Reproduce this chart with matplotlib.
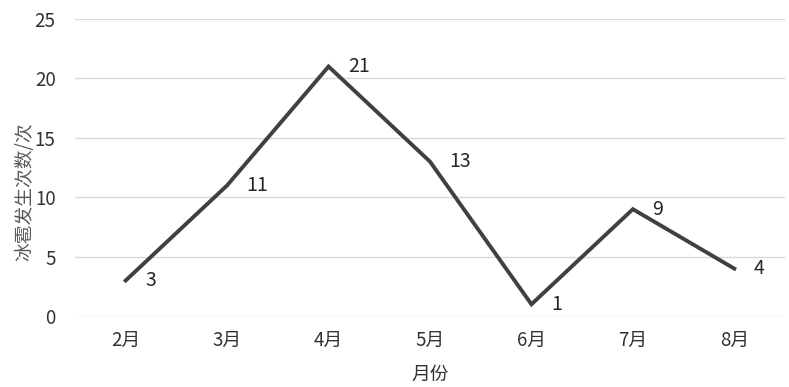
import matplotlib.pyplot as plt

plt.rcParams['font.family'] = ['Noto Sans CJK SC', 'DejaVu Sans']

months = ["2月", "3月", "4月", "5月", "6月", "7月", "8月"]
counts = [3, 11, 21, 13, 1, 9, 4]
yticks = [0, 5, 10, 15, 20, 25]

fig = plt.figure(figsize=(7.89, 3.87), dpi=100)
ax = fig.add_axes([0.095, 0.183, 0.9, 0.768])

x = list(range(len(months)))
ax.plot(x, counts, color="#404040", lw=2.8, solid_joinstyle="miter", zorder=3)
for xi, c in zip(x, counts):
    ax.annotate(str(c), (xi, c), xytext=(14, 0), textcoords="offset points",
                ha="left", va="center", fontsize=14, color="#262626")

ax.set_xlim(-0.5, len(months) - 0.5)
ax.set_ylim(0, 25)
ax.set_yticks(yticks)
ax.set_xticks(x)
ax.set_xticklabels(months)
ax.yaxis.grid(True, color="#d9d9d9", lw=1)
ax.set_axisbelow(True)
for s in ax.spines.values():
    s.set_visible(False)
ax.tick_params(length=0, labelsize=13.5, colors="#333333")
ax.tick_params(axis="y", pad=14)
ax.tick_params(axis="x", pad=10)
ax.set_xlabel("月份", fontsize=13.5, color="#333333", labelpad=9)
ax.set_ylabel("冰雹发生次数/次", fontsize=13.5, color="#595959")
ax.yaxis.set_label_coords(-0.056, 0.42)

fig.savefig("out.png", dpi=100)
